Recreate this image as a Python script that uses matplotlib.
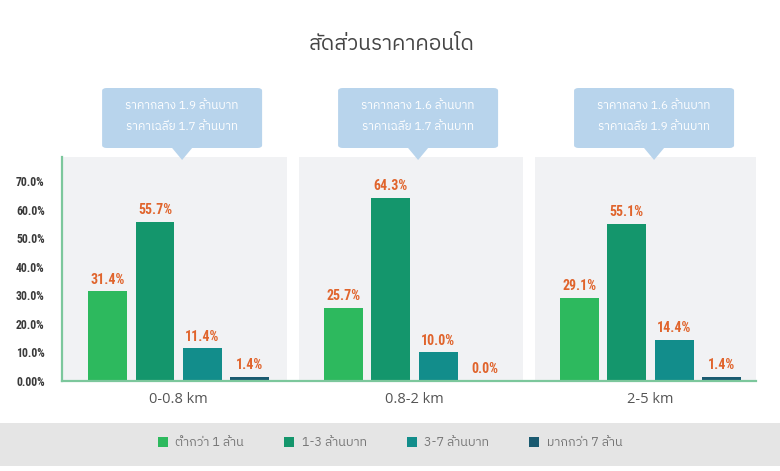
import matplotlib
matplotlib.use("Agg")
import matplotlib.pyplot as plt
import numpy as np
from matplotlib.patches import FancyBboxPatch, Polygon, Rectangle

THAI = ['IBM Plex Sans Thai', 'Kanit', 'DejaVu Sans']
plt.rcParams['font.family'] = THAI

groups = ['0-0.8 km', '0.8-2 km', '2-5 km']
price_bands = ['ต่ำกว่า 1 ล้าน', '1-3 ล้านบาท', '3-7 ล้านบาท', 'มากกว่า 7 ล้าน']
shares = [
    [31.4, 25.7, 29.1],
    [55.7, 64.3, 55.1],
    [11.4, 10.0, 14.4],
    [1.4, 0.0, 1.4],
]
median_price = [1.9, 1.6, 1.6]
mean_price = [1.7, 1.7, 1.9]
yticks = [0, 10, 20, 30, 40, 50, 60, 70]
ytick_labels = ['0.00%', '10.0%', '20.0%', '30.0%', '40.0%', '50.0%', '60.0%', '70.0%']

colors = ['#2db95e', '#14966c', '#128d8b', '#1a5a70']
axis_green = '#7cc79c'
label_orange = '#e0642c'

W, H = 780, 471
fig = plt.figure(figsize=(W / 100, H / 100), dpi=100)
ax = fig.add_axes([62 / W, 1 - 381 / H, 694 / W, 224 / H])

x = np.arange(len(groups))
pitch, width = 0.2, 0.165

for k in x:
    ax.axvspan(k - 0.49, k + 0.46, color='#f1f2f4', zorder=0, lw=0)

for i, (band, vals) in enumerate(zip(price_bands, shares)):
    pos = x + (i - 1.5) * pitch
    ax.bar(pos, vals, width, color=colors[i], label=band, zorder=2)
    for p, v in zip(pos, vals):
        ax.text(p, v + 1.6, f'{v:.1f}%', ha='center', va='bottom',
                color=label_orange, fontsize=10, fontweight='bold',
                family=['Roboto Condensed', 'DejaVu Sans'], zorder=3)

ax.set_xlim(-0.494, 2.447)
ax.set_ylim(0, 78.5)
ax.set_yticks(yticks)
ax.set_yticklabels(ytick_labels, fontsize=8.5, fontweight='bold', color='#3a3a3a',
                   family=['Roboto Condensed', 'DejaVu Sans'])
ax.set_xticks(x)
ax.set_xticklabels(groups, fontsize=10.5, color='#555555', family=['Open Sans', 'DejaVu Sans'])
ax.tick_params(axis='y', length=0, pad=12.5)
ax.tick_params(axis='x', length=0, pad=8)
for s in ['top', 'right']:
    ax.spines[s].set_visible(False)
for s in ['left', 'bottom']:
    ax.spines[s].set_color(axis_green)
    ax.spines[s].set_linewidth(1.6)
ax.set_facecolor('white')

# callouts above each group
fig.canvas.draw()
for k in x:
    cx = ax.transData.transform((k + 0.015, 0))[0]
    bx0, bx1, by0, by1 = cx - 80, cx + 80, H - 148, H - 88
    box = FancyBboxPatch((bx0 / W, by0 / H), (bx1 - bx0) / W, (by1 - by0) / H,
                         boxstyle='round,pad=0,rounding_size=0.006',
                         transform=fig.transFigure, fc='#b8d4ec', ec='none')
    fig.patches.append(box)
    tri = Polygon([((cx - 10) / W, by0 / H), ((cx + 10) / W, by0 / H), (cx / W, (H - 160) / H)],
                  closed=True, transform=fig.transFigure, fc='#b8d4ec', ec='none')
    fig.patches.append(tri)
    fig.text(cx / W, (H - 106) / H, f'ราคากลาง {median_price[k]} ล้านบาท',
             ha='center', va='center', color='white', fontsize=8.5)
    fig.text(cx / W, (H - 127) / H, f'ราคาเฉลี่ย {mean_price[k]} ล้านบาท',
             ha='center', va='center', color='white', fontsize=8.5)

fig.text(392 / W, 1 - 45 / H, 'สัดส่วนราคาคอนโด', ha='center', va='center',
         fontsize=15, color='#444444')

# legend band
fig.patches.append(Rectangle((0, 5 / H), 1, 43 / H, transform=fig.transFigure,
                             fc='#e5e5e5', ec='none', zorder=0))
fig.legend(loc='center', bbox_to_anchor=(0.5, 28 / H), ncol=4, frameon=False,
           prop={'family': THAI, 'size': 9}, labelcolor='#777777',
           handlelength=0.8, handleheight=0.8, handletextpad=0.6, columnspacing=3.2)

fig.savefig('out.png', dpi=100, facecolor='white')
